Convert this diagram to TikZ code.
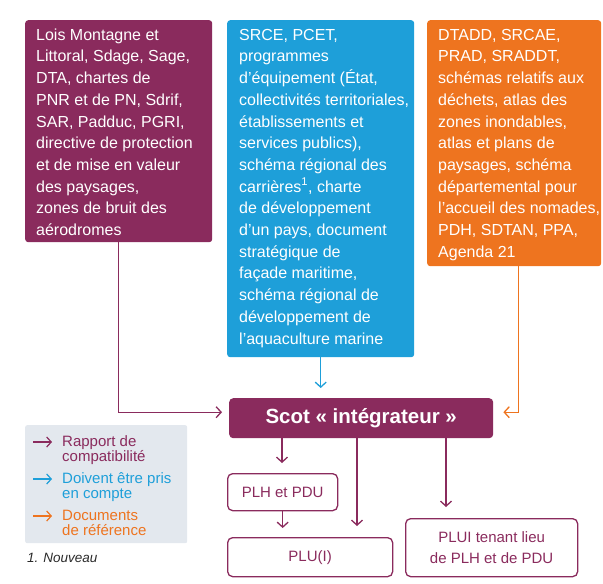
\documentclass[tikz,border=0pt]{standalone}
\usepackage{fontspec}
\setmainfont{Liberation Sans}
\usepackage{tikz}
\usetikzlibrary{arrows.meta}
\definecolor{prune}{HTML}{8A2B5D}
\definecolor{bleu}{HTML}{1E9FD9}
\definecolor{orangeref}{HTML}{EE741F}
\definecolor{fondleg}{HTML}{E3E8EE}
\definecolor{gristxt}{HTML}{2A2A2A}
\tikzset{
  boite/.style={anchor=north west, rounded corners=3pt, inner sep=0pt},
  texte/.style={anchor=north west, inner sep=0pt, align=left, text=white,
    font=\fontsize{16}{21.7}\selectfont},
  scotbox/.style={anchor=north west, fill=prune, rounded corners=4pt, text=white,
    font=\bfseries\fontsize{20.5}{24}\selectfont, minimum width=264pt, minimum height=40pt},
  plu/.style={anchor=north west, draw=prune, line width=1.3pt, rounded corners=5pt,
    text=prune, align=center, font=\fontsize{15}{21}\selectfont},
  lien/.style={-{Straight Barb[length=5pt,width=11pt]}, line width=1.3pt},
  legtxt/.style={anchor=north west, inner sep=0pt, align=left,
    font=\fontsize{15}{15}\selectfont},
  legfl/.style={-{Straight Barb[length=4.5pt,width=10pt]}, line width=1.2pt}
}

\begin{document}
\begin{tikzpicture}[x=1pt,y=-1pt]
  \useasboundingbox (0,0) rectangle (603,584);

  % les trois familles de documents
  \node[boite, fill=prune, minimum width=187pt, minimum height=222pt] (lois) at (25,20) {};
  \node[boite, fill=bleu, minimum width=187pt, minimum height=337pt] (srce) at (227,20) {};
  \node[boite, fill=orangeref, minimum width=174pt, minimum height=246pt] (dtadd) at (427,20) {};

  \node[texte] (loistxt) at (36,28) {\rule{0pt}{12pt}Lois Montagne et\\Littoral, Sdage, Sage,\\DTA, chartes de\\PNR et de PN, Sdrif,\\SAR, Padduc, PGRI,\\directive de protection\\et de mise en valeur\\des paysages,\\zones de bruit des\\aérodromes};
  \node[texte] (srcetxt) at (239,28) {\rule{0pt}{12pt}SRCE, PCET,\\programmes\\d’équipement (État,\\collectivités territoriales,\\établissements et\\services publics),\\schéma régional des\\carrières\textsuperscript{1}, charte\\de développement\\d’un pays, document\\stratégique de\\façade maritime,\\schéma régional de\\développement de\\l’aquaculture marine};
  \node[texte] (dtaddtxt) at (438,28) {\rule{0pt}{12pt}DTADD, SRCAE,\\PRAD, SRADDT,\\schémas relatifs aux\\déchets, atlas des\\zones inondables,\\atlas et plans de\\paysages, schéma\\départemental pour\\l’accueil des nomades,\\PDH, SDTAN, PPA,\\Agenda 21};

  \node[scotbox] (scot) at (229,398) {Scot « intégrateur »};

  \node[plu, minimum width=110pt, minimum height=37pt] (plh) at (227,473) {PLH et PDU};
  \node[plu, minimum width=165pt, minimum height=39pt] (plui) at (227,537) {PLU(I)};
  \node[plu, minimum width=172pt, minimum height=58pt] (pluitl) at (405,518) {PLUI tenant lieu\\de PLH et de PDU};

  % fleches
  \draw[lien, prune, shorten >=7pt] (lois.south) |- ([yshift=6pt]scot.west);
  \draw[lien, bleu, shorten >=10pt] (srce.south) -- (srce.south |- scot.north);
  \draw[lien, orangeref, shorten >=10pt] ([xshift=4pt]dtadd.south) |- ([yshift=6pt]scot.east);

  \coordinate (d1) at (282,437);
  \coordinate (d2) at (357,437);
  \coordinate (d3) at (446,437);
  \draw[lien, prune, shorten >=10pt] (d1) -- (d1 |- plh.north);
  \draw[lien, prune, shorten >=11pt] (d2) -- (d2 |- plui.north);
  \draw[lien, prune, shorten >=11pt] (d3) -- (d3 |- pluitl.north);
  \draw[lien, prune, shorten >=9pt] (plh.south) -- (plh.south |- plui.north);

  % legende
  \node[boite, fill=fondleg, rounded corners=2pt, minimum width=162pt, minimum height=118pt] (legende) at (25,425) {};
  \node[legtxt, text=prune] (leg1) at (62,435) {\rule{0pt}{11.5pt}Rapport de\\compatibilité};
  \node[legtxt, text=bleu] (leg2) at (62,472) {\rule{0pt}{11.5pt}Doivent être pris\\en compte};
  \node[legtxt, text=orangeref] (leg3) at (62,509) {\rule{0pt}{11.5pt}Documents\\de référence};
  \coordinate (f1) at (33,442);
  \coordinate (f2) at (33,479);
  \coordinate (f3) at (33,516);
  \draw[legfl, prune, shorten >=10pt] (f1) -- (f1 -| leg1.west);
  \draw[legfl, bleu, shorten >=10pt] (f2) -- (f2 -| leg2.west);
  \draw[legfl, orangeref, shorten >=10pt] (f3) -- (f3 -| leg3.west);

  \node[anchor=base west, inner sep=0pt, text=gristxt, font=\itshape\fontsize{13.5}{15}\selectfont] (renvoi) at (27,562) {1. Nouveau};
\end{tikzpicture}
\end{document}
